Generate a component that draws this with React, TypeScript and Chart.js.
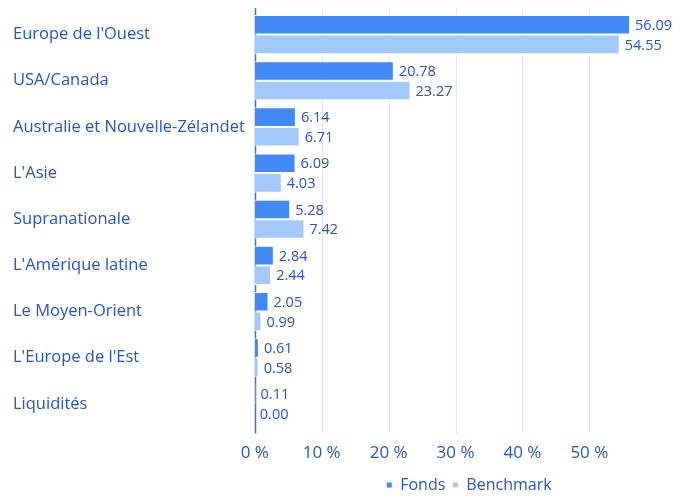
import React, { useEffect, useRef } from "react";
import { Chart, registerables } from "chart.js";

Chart.register(...registerables);

const categories = [
  "Europe de l'Ouest",
  "USA/Canada",
  "Australie et Nouvelle-Zélandet",
  "L'Asie",
  "Supranationale",
  "L'Amérique latine",
  "Le Moyen-Orient",
  "L'Europe de l'Est",
  "Liquidités",
];
const fonds = [56.09, 20.78, 6.14, 6.09, 5.28, 2.84, 2.05, 0.61, 0.11];
const benchmark = [54.55, 23.27, 6.71, 4.03, 7.42, 2.44, 0.99, 0.58, 0.0];
const xTicks = [0, 10, 20, 30, 40, 50];

const TEXT = "#2456c0";
const FONT = "'Open Sans', 'Noto Sans', sans-serif";

const gridLines = {
  id: "gridLines",
  beforeDatasetsDraw(chart: any) {
    const ctx = chart.ctx;
    const { top, bottom } = chart.chartArea;
    const xs = chart.scales.x;
    ctx.save();
    xTicks.forEach((v) => {
      const x = Math.round(xs.getPixelForValue(v)) + 0.5;
      ctx.beginPath();
      ctx.strokeStyle = v === 0 ? "#3d6fd6" : "#dceafd";
      ctx.lineWidth = v === 0 ? 1.5 : 1;
      ctx.moveTo(x, top - 5.5);
      ctx.lineTo(x, bottom + 6.5);
      ctx.stroke();
    });
    ctx.restore();
  },
};

const valueLabels = {
  id: "valueLabels",
  afterDatasetsDraw(chart: any) {
    const ctx = chart.ctx;
    ctx.save();
    ctx.font = `14.5px ${FONT}`;
    ctx.fillStyle = TEXT;
    ctx.textAlign = "left";
    ctx.textBaseline = "middle";
    chart.data.datasets.forEach((ds: any, di: number) => {
      const meta = chart.getDatasetMeta(di);
      if (meta.hidden) return;
      meta.data.forEach((el: any, i: number) => {
        const v = ds.data[i] as number;
        ctx.fillText(v.toFixed(2), el.x + 5, el.y + 1);
      });
    });
    ctx.restore();
  },
};

export default function App() {
  const ref = useRef<HTMLCanvasElement>(null);
  useEffect(() => {
    if (!ref.current) return;
    const chart = new Chart(ref.current, {
      type: "bar",
      data: {
        labels: categories,
        datasets: [
          {
            label: "Fonds",
            data: fonds,
            backgroundColor: "#4189f4",
            borderColor: "#ffffff",
            borderWidth: 1,
            categoryPercentage: 0.85,
            barPercentage: 1,
          },
          {
            label: "Benchmark",
            data: benchmark,
            backgroundColor: "#a3c9fb",
            borderColor: "#ffffff",
            borderWidth: 1,
            categoryPercentage: 0.85,
            barPercentage: 1,
          },
        ],
      },
      options: {
        indexAxis: "y",
        animation: false,
        responsive: true,
        maintainAspectRatio: false,
        layout: { padding: { left: 5, top: 3.5, right: 0, bottom: -4 } },
        scales: {
          x: {
            min: 0,
            max: 64,
            afterBuildTicks(axis: any) {
              axis.ticks = xTicks.map((v) => ({ value: v }));
            },
            afterFit(scale: any) {
              scale.height = 43;
            },
            grid: { display: false, drawTicks: false },
            border: { display: false },
            ticks: {
              color: TEXT,
              font: { family: FONT, size: 17 },
              padding: 16.3,
              callback: (v: any) => `${v} %`,
            },
          },
          y: {
            grid: { display: false },
            border: { display: false },
            afterFit(scale: any) {
              scale.paddingTop = 0;
              scale.paddingBottom = 0;
            },
            ticks: {
              color: TEXT,
              font: { family: FONT, size: 16.5 },
              crossAlign: "far",
              padding: 1,
            },
          },
        },
        plugins: {
          legend: {
            position: "bottom",
            fullSize: false,
            labels: {
              color: TEXT,
              font: { family: FONT, size: 16 },
              usePointStyle: true,
              pointStyle: "rect",
              boxWidth: 6,
              boxHeight: 6,
              padding: 7,
            },
          },
          tooltip: { enabled: false },
        },
      },
      plugins: [gridLines, valueLabels],
    });
    return () => chart.destroy();
  }, []);
  return (
    <div style={{ position: "fixed", left: 8, top: 8, width: 675, height: 491 }}>
      <canvas ref={ref} />
    </div>
  );
}
